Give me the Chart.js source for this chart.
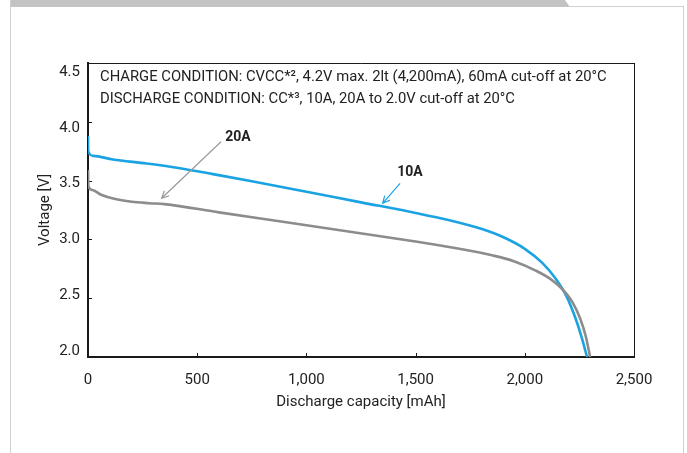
<!DOCTYPE html>
<html>
<head>
<meta charset="utf-8">
<script src="https://cdn.jsdelivr.net/npm/chart.js@4.4.1/dist/chart.umd.min.js"></script>
<style>
html,body{margin:0;padding:0;background:#fff;width:687px;height:453px;overflow:hidden;position:relative}
#band{position:absolute;left:10px;top:0;width:560px;height:7px;background:#c3c3c3;clip-path:polygon(0 0,555px 0,560px 7px,0 7px)}
#frameL{position:absolute;left:10px;top:0;width:1px;height:453px;background:#d0d0d0}
#frameR{position:absolute;left:683px;top:6px;width:1px;height:447px;background:#d0d0d0}
#frameT{position:absolute;left:568px;top:6px;width:116px;height:1px;background:#d0d0d0}
canvas{position:absolute;left:0;top:0}
</style>
</head>
<body>
<div id="band"></div><div id="frameL"></div><div id="frameR"></div><div id="frameT"></div>
<canvas id="c" width="687" height="453"></canvas>
<script>
// ---- data ----
const capacity10A = [0, 1, 24, 114, 269, 421, 572, 750, 1000, 1250, 1500, 1650, 1800, 1900, 2000, 2080, 2140, 2190, 2230, 2260, 2285];
const voltage10A  = [3.88, 3.75, 3.71, 3.68, 3.645, 3.605, 3.555, 3.495, 3.405, 3.315, 3.225, 3.165, 3.09, 3.02, 2.92, 2.80, 2.67, 2.52, 2.34, 2.17, 2.0];
const capacity20A = [0, 2, 20, 60, 120, 200, 280, 350, 600, 900, 1200, 1500, 1700, 1850, 1950, 2050, 2120, 2175, 2220, 2255, 2280, 2299];
const voltage20A  = [3.59, 3.45, 3.42, 3.38, 3.345, 3.32, 3.308, 3.30, 3.23, 3.148, 3.065, 2.982, 2.92, 2.865, 2.815, 2.735, 2.66, 2.57, 2.46, 2.32, 2.17, 2.0];
const seriesNames = ['10A', '20A'];
const xTickValues = [0, 500, 1000, 1500, 2000, 2500];
const xTickLabels = ['0', '500', '1,000', '1,500', '2,000', '2,500'];
const yTickValues = [2.0, 2.5, 3.0, 3.5, 4.0, 4.5];
const yTickLabels = ['2.0', '2.5', '3.0', '3.5', '4.0', '4.5'];
const xTitle = 'Discharge capacity [mAh]';
const yTitle = 'Voltage [V]';
const conditionLines = [
  'CHARGE CONDITION: CVCC*\u00B2, 4.2V max. 2lt (4,200mA), 60mA cut-off at 20\u00B0C',
  'DISCHARGE CONDITION: CC*\u00B3, 10A, 20A to 2.0V cut-off at 20\u00B0C'
];
// callouts in data units: label anchor, arrow start, arrow tip
const callouts = [
  { series: 1, label: [687, 3.87], from: [609, 3.83], to: [337, 3.35] },
  { series: 0, label: [1474, 3.565], from: [1429, 3.477], to: [1349, 3.307] }
];

// ---- styles ----
const BLUE = '#1aa3e3';
const GRAY = '#8c8c8c';
const ARROW_GRAY = '#9a9a9a';
const TEXT = '#222222';
const AXIS = '#1a1a1a';
// the reference's y labels sit on a slightly compressed spacing relative to the ticks
const Y_LABEL_MIN = 1.946, Y_LABEL_MAX = 4.581;

const toPoints = (xs, ys) => xs.map((x, i) => ({ x: x, y: ys[i] }));

const decor = {
  id: 'decor',
  beforeDatasetsDraw(chart) {
    const { ctx, chartArea: a, scales: { x, y } } = chart;
    ctx.save();
    ctx.strokeStyle = AXIS;
    ctx.lineWidth = 1;
    ctx.beginPath();
    ctx.moveTo(a.left, a.top + 0.5); ctx.lineTo(a.right + 0.5, a.top + 0.5);
    ctx.moveTo(a.right + 0.5, a.top); ctx.lineTo(a.right + 0.5, a.bottom);
    xTickValues.forEach(v => {
      if (v <= x.min || v >= x.max) return;
      const px = Math.round(x.getPixelForValue(v)) + 0.5;
      ctx.moveTo(px, a.bottom); ctx.lineTo(px, a.bottom - 4);
    });
    yTickValues.forEach(v => {
      if (v <= y.min || v >= y.max) return;
      const py = Math.round(y.getPixelForValue(v)) + 0.5;
      ctx.moveTo(a.left, py); ctx.lineTo(a.left + 4, py);
    });
    ctx.stroke();
    ctx.fillStyle = TEXT;
    ctx.font = '14.8px Roboto';
    ctx.textAlign = 'left';
    ctx.textBaseline = 'middle';
    conditionLines.forEach((t, i) => ctx.fillText(t, a.left + 12, a.top + 14 + i * 22));
    ctx.restore();
  },
  afterDatasetsDraw(chart) {
    const { ctx, scales: { x, y } } = chart;
    ctx.save();
    callouts.forEach(c => {
      const col = c.series === 0 ? BLUE : ARROW_GRAY;
      const x1 = x.getPixelForValue(c.from[0]), y1 = y.getPixelForValue(c.from[1]);
      const x2 = x.getPixelForValue(c.to[0]), y2 = y.getPixelForValue(c.to[1]);
      ctx.strokeStyle = col;
      ctx.lineWidth = 1.2;
      ctx.beginPath();
      ctx.moveTo(x1, y1); ctx.lineTo(x2, y2);
      const ang = Math.atan2(y2 - y1, x2 - x1);
      const L = 8, w = 0.45;
      ctx.moveTo(x2 - L * Math.cos(ang - w), y2 - L * Math.sin(ang - w));
      ctx.lineTo(x2, y2);
      ctx.lineTo(x2 - L * Math.cos(ang + w), y2 - L * Math.sin(ang + w));
      ctx.stroke();
      ctx.fillStyle = TEXT;
      ctx.font = 'bold 14px Roboto';
      ctx.textAlign = 'center';
      ctx.textBaseline = 'middle';
      ctx.fillText(seriesNames[c.series], x.getPixelForValue(c.label[0]), y.getPixelForValue(c.label[1]));
    });
    ctx.restore();
  }
};

Chart.defaults.font.family = 'Roboto';
Chart.defaults.font.size = 15;
Chart.defaults.color = TEXT;

new Chart(document.getElementById('c'), {
  type: 'line',
  data: {
    datasets: [
      { label: seriesNames[1], data: toPoints(capacity20A, voltage20A), borderColor: GRAY, borderWidth: 2.6,
        pointRadius: 0, fill: false, cubicInterpolationMode: 'monotone', yAxisID: 'y' },
      { label: seriesNames[0], data: toPoints(capacity10A, voltage10A), borderColor: BLUE, borderWidth: 2.6,
        pointRadius: 0, fill: false, cubicInterpolationMode: 'monotone', yAxisID: 'y' }
    ]
  },
  options: {
    responsive: false,
    animation: false,
    devicePixelRatio: 1,
    layout: { padding: { top: 63, right: 53, bottom: 40, left: 0 } },
    plugins: { legend: { display: false }, tooltip: { enabled: false }, title: { display: false } },
    scales: {
      x: {
        type: 'linear', min: 0, max: 2500,
        afterFit: s => { s.height = 56; },
        afterBuildTicks: s => { s.ticks = xTickValues.map(v => ({ value: v })); },
        ticks: { padding: 14, color: TEXT, font: { size: 15 }, maxRotation: 0,
          callback: v => xTickLabels[xTickValues.indexOf(v)] },
        grid: { display: false, drawTicks: false },
        border: { display: true, color: AXIS, width: 2 },
        title: { display: true, text: xTitle, color: TEXT, font: { size: 15 }, padding: { top: 0, bottom: 2 } }
      },
      y: {
        type: 'linear', position: 'left', weight: 0, min: 2, max: 4.5,
        afterFit: s => { s.width = 0; },
        afterBuildTicks: s => { s.ticks = yTickValues.map(v => ({ value: v })); },
        ticks: { display: false },
        grid: { display: false, drawTicks: false },
        border: { display: true, color: AXIS, width: 2 },
        title: { display: false }
      },
      yLabels: {
        type: 'linear', position: 'left', weight: 1, min: Y_LABEL_MIN, max: Y_LABEL_MAX,
        afterFit: s => { s.width = 88; },
        afterBuildTicks: s => { s.ticks = yTickValues.map(v => ({ value: v })); },
        ticks: { padding: 8, color: TEXT, font: { size: 15 },
          callback: v => yTickLabels[yTickValues.indexOf(v)] },
        grid: { display: false, drawTicks: false },
        border: { display: false },
        title: { display: true, text: yTitle, color: TEXT, font: { size: 15 }, padding: { top: 36, bottom: 0 } }
      }
    }
  },
  plugins: [decor]
});
</script>
</body>
</html>
